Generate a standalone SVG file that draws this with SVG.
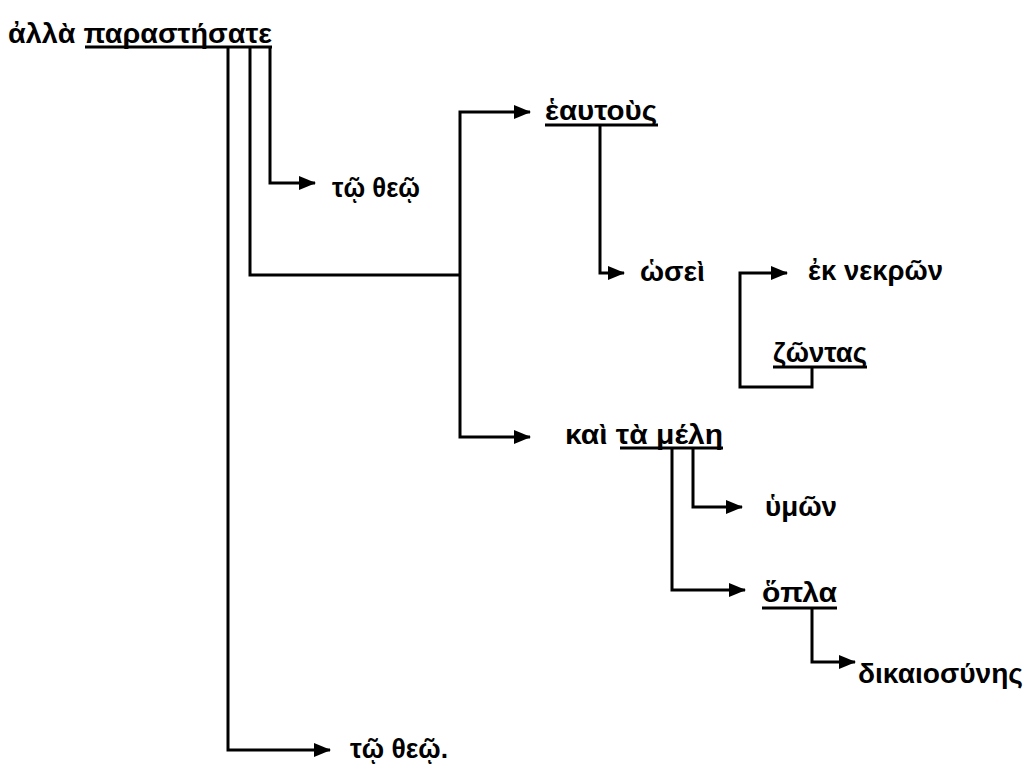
<svg xmlns="http://www.w3.org/2000/svg" width="1030" height="771" viewBox="0 0 1030 771">
<defs>
<marker id="ah" markerWidth="17" markerHeight="14" refX="16" refY="7" orient="auto" markerUnits="userSpaceOnUse">
<path d="M0,0 L17,7 L0,14 Z" fill="#000"/>
</marker>
<style>
text{font-family:"Liberation Sans","DejaVu Sans",sans-serif;font-size:27px;font-weight:bold;fill:#000}
.c{fill:none;stroke:#000;stroke-width:3;stroke-linejoin:miter}
.a{marker-end:url(#ah)}
.u{stroke:#000;stroke-width:3}
</style>
</defs>
<rect width="1030" height="771" fill="#fff"/>
<g id="connectors">
<path class="c a" d="M270,47 V183 H315"/>
<path class="c" d="M250,47 V275 H460"/>
<path class="c a" d="M460,275 V112 H530"/>
<path class="c a" d="M460,275 V437 H530"/>
<path class="c a" d="M228,47 V750 H330"/>
<path class="c a" d="M600,125 V273 H624"/>
<path class="c a" d="M812,368 V387 H740 V273 H787"/>
<path class="c a" d="M693,448 V507 H742"/>
<path class="c a" d="M672,448 V590 H745"/>
<path class="c a" d="M812,608 V662 H855"/>
</g>
<g id="n-root"><text x="8" y="43" textLength="264" lengthAdjust="spacingAndGlyphs">ἀλλὰ παραστήσατε</text><line class="u" x1="85" y1="47" x2="272" y2="47"/></g>
<g id="n-tw-thew1"><text x="332" y="197" textLength="88" lengthAdjust="spacingAndGlyphs">τῷ θεῷ</text></g>
<g id="n-eautous"><text x="545" y="120" textLength="112" lengthAdjust="spacingAndGlyphs">ἑαυτοὺς</text><line class="u" x1="545" y1="125" x2="658" y2="125"/></g>
<g id="n-wsei"><text x="640" y="281" textLength="65" lengthAdjust="spacingAndGlyphs">ὡσεὶ</text></g>
<g id="n-ek-nekrwn"><text x="808" y="280" textLength="135" lengthAdjust="spacingAndGlyphs">ἐκ νεκρῶν</text></g>
<g id="n-zwntas"><text x="773" y="362" textLength="94" lengthAdjust="spacingAndGlyphs">ζῶντας</text><line class="u" x1="773" y1="367" x2="867" y2="367"/></g>
<g id="n-meli"><text x="565" y="444" textLength="158" lengthAdjust="spacingAndGlyphs">καὶ τὰ μέλη</text><line class="u" x1="620" y1="448" x2="723" y2="448"/></g>
<g id="n-ymwn"><text x="765" y="516" textLength="72" lengthAdjust="spacingAndGlyphs">ὑμῶν</text></g>
<g id="n-opla"><text x="762" y="602" textLength="75" lengthAdjust="spacingAndGlyphs">ὅπλα</text><line class="u" x1="762" y1="608" x2="837" y2="608"/></g>
<g id="n-dikaiosynis"><text x="858" y="683" textLength="165" lengthAdjust="spacingAndGlyphs">δικαιοσύνης</text></g>
<g id="n-tw-thew2"><text x="350" y="758" textLength="98" lengthAdjust="spacingAndGlyphs">τῷ θεῷ.</text></g>
</svg>
